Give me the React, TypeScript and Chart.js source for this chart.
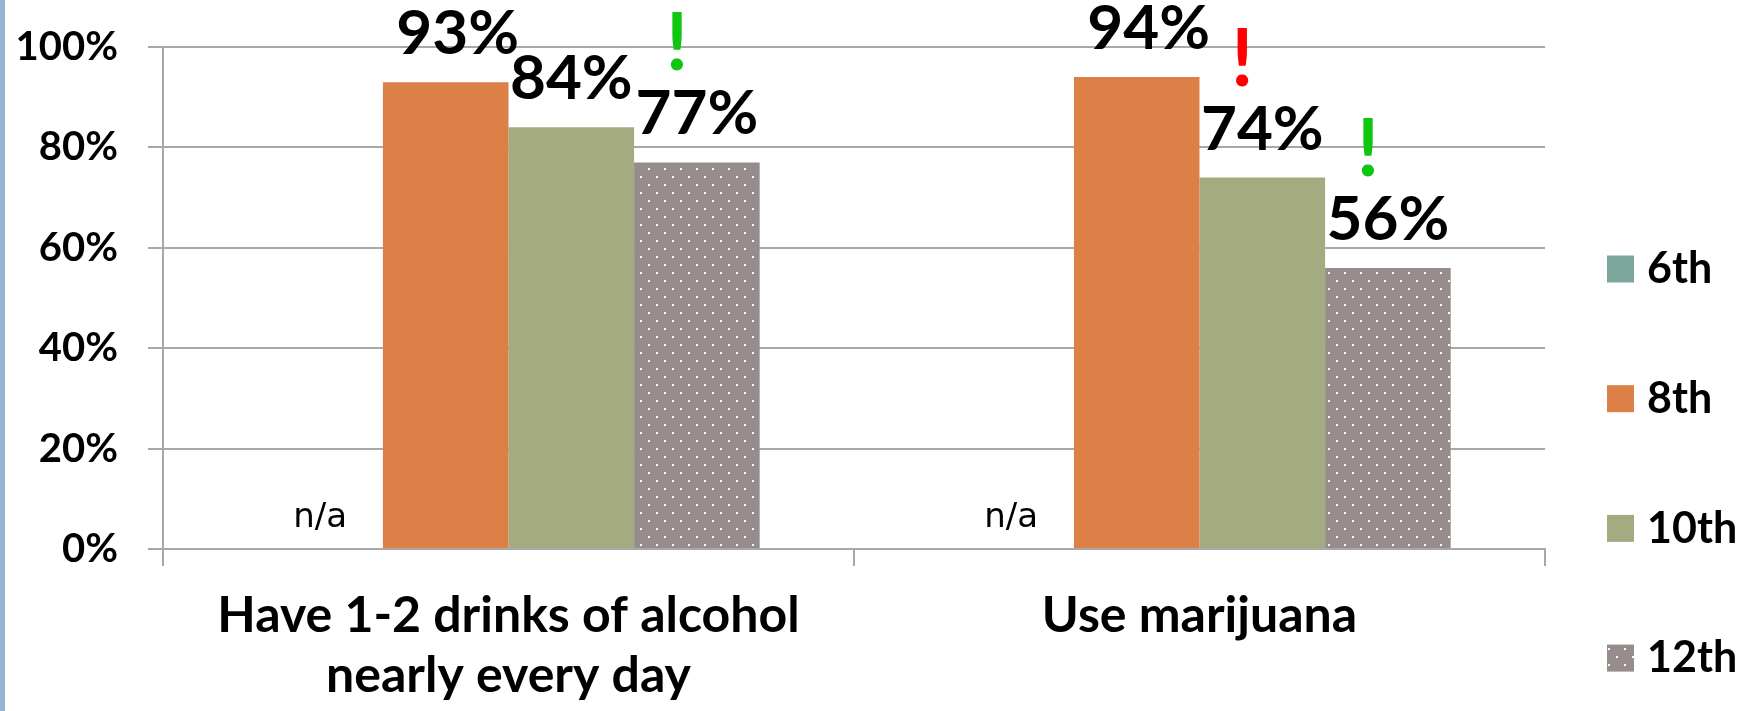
import { useEffect, useRef } from 'react';
import { Chart, registerables } from 'chart.js';

Chart.register(...registerables);

const categories: (string | string[])[] = [['Have 1-2 drinks of alcohol', 'nearly every day'], 'Use marijuana'];
const seriesNames = ['6th', '8th', '10th', '12th'];
const grade6: (number | null)[] = [null, null];
const grade8 = [93, 94];
const grade10 = [84, 74];
const grade12 = [77, 56];
const yTickStep = 20;
const yMax = 100;
// change flags: which bar carries a "!" and its colour
const flagSeries = [3, 2, 3];
const flagCategory = [0, 1, 1];
const flagColors = ['#11C611', '#FF0000', '#11C611'];

const COLORS = ['#7BA79D', '#DD8047', '#A5AB81', '#968C8C'];
const GRID = '#A8A8A8';

function makeDots(): CanvasPattern | string {
  const c = document.createElement('canvas');
  c.width = 16;
  c.height = 16;
  const g = c.getContext('2d');
  if (!g) return COLORS[3];
  g.fillStyle = COLORS[3];
  g.fillRect(0, 0, 16, 16);
  g.fillStyle = '#FFFFFF';
  g.fillRect(0, 0, 2, 2);
  g.fillRect(8, 8, 2, 2);
  const p = g.createPattern(c, 'repeat');
  return p || COLORS[3];
}

const labelsPlugin = {
  id: 'valueLabels',
  afterDatasetsDraw(chart: any) {
    const ctx = chart.ctx as CanvasRenderingContext2D;
    const y0 = chart.scales.y.getPixelForValue(0);
    ctx.save();
    ctx.textAlign = 'center';
    ctx.textBaseline = 'alphabetic';
    ctx.fillStyle = '#000';
    chart.data.datasets.forEach((ds: any, di: number) => {
      const meta = chart.getDatasetMeta(di);
      meta.data.forEach((el: any, i: number) => {
        const v = ds.data[i];
        if (v == null) {
          ctx.font = '34px "DejaVu Sans"';
          ctx.fillText('n/a', el.x, y0 - 22);
        } else {
          ctx.font = 'bold 62px Lato';
          ctx.fillText(v + '%', el.x + (ds.labelDx || 0), el.y - 28);
        }
      });
    });
    ctx.font = 'bold 80px Lato';
    flagSeries.forEach((s, k) => {
      const el = chart.getDatasetMeta(s).data[flagCategory[k]];
      if (!el) return;
      ctx.fillStyle = flagColors[k];
      ctx.fillText('!', el.x - 20, el.y - 92);
    });
    ctx.restore();
  },
};

const legendPlugin = {
  id: 'sideLegend',
  afterDraw(chart: any) {
    const ctx = chart.ctx as CanvasRenderingContext2D;
    const area = chart.chartArea;
    const x = area.right + 62;
    ctx.save();
    ctx.font = 'bold 43px Lato';
    ctx.textAlign = 'left';
    ctx.textBaseline = 'middle';
    chart.data.datasets.forEach((ds: any, i: number) => {
      const y = area.top + 208.5 + i * 129.7;
      ctx.fillStyle = ds.backgroundColor;
      ctx.fillRect(x, y, 27, 27);
      ctx.fillStyle = '#000';
      ctx.fillText(ds.label, x + 40, y + 14);
    });
    ctx.restore();
  },
};

export default function App() {
  const ref = useRef<HTMLCanvasElement>(null);

  useEffect(() => {
    if (!ref.current) return;
    const dots = makeDots();
    const series = [grade6, grade8, grade10, grade12];
    const chart = new Chart(ref.current, {
      type: 'bar',
      data: {
        labels: categories,
        datasets: series.map((d, i) => ({
          label: seriesNames[i],
          data: d,
          backgroundColor: i === 3 ? dots : COLORS[i],
          borderWidth: 0,
          labelDx: i === 1 ? 12 : 0,
        })) as any,
      },
      options: {
        responsive: false,
        animation: false,
        layout: { padding: { top: 47, right: 197, left: 0, bottom: 0 } },
        plugins: { legend: { display: false }, tooltip: { enabled: false } },
        datasets: { bar: { categoryPercentage: 0.727, barPercentage: 1 } },
        scales: {
          x: {
            afterFit: (s: any) => {
              s.height = 162;
              s.paddingLeft = 0;
              s.paddingRight = 0;
            },
            grid: { drawOnChartArea: false, drawTicks: true, tickLength: 17, color: GRID, lineWidth: 2 },
            border: { display: true, color: GRID, width: 2 },
            ticks: {
              font: { family: 'Lato', weight: 'bold', size: 50, lineHeight: 1.2 },
              color: '#000',
              padding: 20,
              maxRotation: 0,
              autoSkip: false,
            },
          },
          y: {
            min: 0,
            max: yMax,
            afterFit: (s: any) => {
              s.width = 163;
              s.paddingTop = 0;
              s.paddingBottom = 0;
            },
            grid: { color: GRID, lineWidth: 2, tickLength: 15 },
            border: { display: true, color: GRID, width: 2 },
            ticks: {
              stepSize: yTickStep,
              callback: (v: any) => v + '%',
              font: { family: 'Lato', weight: 'bold', size: 40 },
              color: '#000',
              padding: 30,
            },
          },
        },
      },
      plugins: [labelsPlugin, legendPlugin],
    });
    return () => chart.destroy();
  }, []);

  return (
    <div style={{ position: 'fixed', left: 0, top: 0, width: 1742, height: 711, background: '#fff' }}>
      <canvas ref={ref} width={1742} height={711} style={{ width: 1742, height: 711, display: 'block' }} />
      <div style={{ position: 'absolute', left: 0, top: 0, width: 5, height: 711, background: '#94B6D2' }} />
    </div>
  );
}
